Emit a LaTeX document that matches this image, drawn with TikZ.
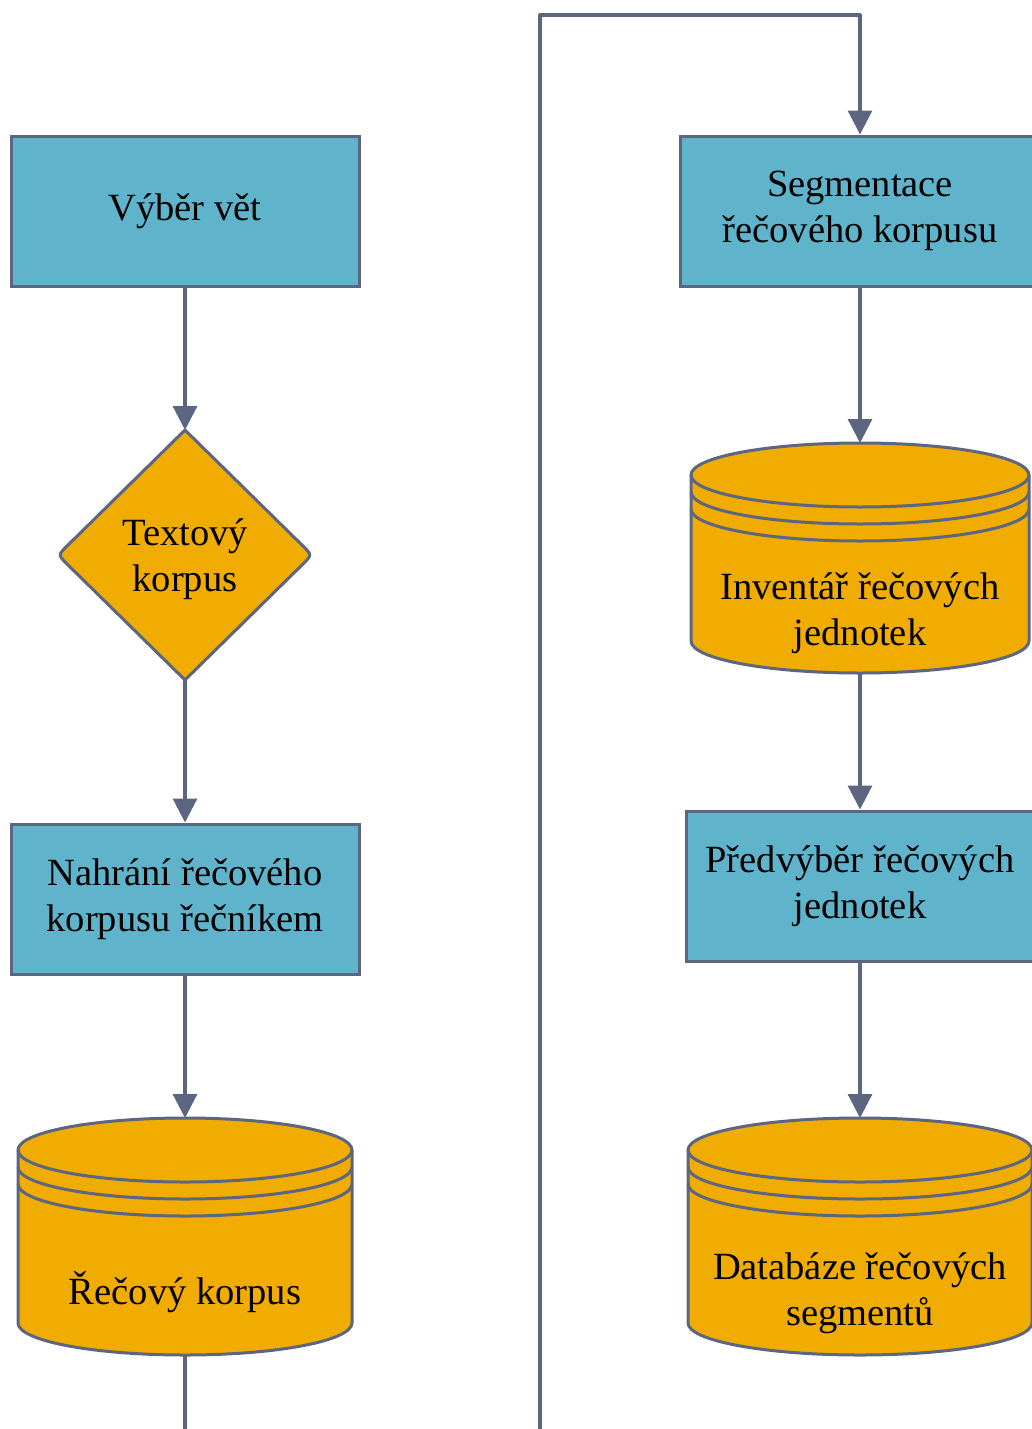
\documentclass[tikz,border=0pt]{standalone}
\usepackage{fontspec}
\setmainfont{Liberation Serif}
\usetikzlibrary{arrows.meta,calc}

\definecolor{edge}{HTML}{5D6680}
\definecolor{procfill}{HTML}{5FB3CB}
\definecolor{datafill}{HTML}{F0AC00}

% drum (stored data) outline around an empty node: #1 node name, #2 x radius
\newcommand\drumshape[2]{%
  \path[outline] ($(#1.north west)+(0,32)$) -- ($(#1.south west)+(0,-32)$)
    arc[start angle=180,end angle=360,x radius=#2pt,y radius=32pt]
    -- ($(#1.north east)+(0,32)$)
    arc[start angle=0,end angle=180,x radius=#2pt,y radius=32pt] -- cycle;
  \foreach \d in {0,17,34}{
    \draw[ring] ($(#1.north west)+(0,32+\d)$)
      arc[start angle=180,end angle=360,x radius=#2pt,y radius=32pt];
  }%
}

\begin{document}
\begin{tikzpicture}[x=1pt,y=-1pt,
  font=\fontsize{38.5}{46}\selectfont,
  proc/.style={draw=edge, fill=procfill, line width=3pt,
    minimum width=348pt, minimum height=150pt, inner sep=0pt, align=center},
  holder/.style={inner sep=0pt, outer sep=0pt},
  outline/.style={draw=edge, fill=datafill, line width=3pt, line join=round},
  ring/.style={draw=edge, line width=3pt},
  caption/.style={align=center, inner sep=0pt},
  flow/.style={draw=edge, line width=3.2pt, line join=round,
    -{Triangle[length=24pt,width=24pt]}}
]
\useasboundingbox (0,0) rectangle (1032,1429);
\fill[white] (0,0) rectangle (1032,1429);
\clip (0,0) rectangle (1032,1429);

% left column
\node[proc] (b1) at (185,211) {Výběr vět};

\node[holder, minimum width=254pt, minimum height=250pt] (dia) at (185,555) {};
\path[outline] (dia.north) -- ($(dia.east)+(-9,-9)$) .. controls (dia.east) .. ($(dia.east)+(-9,9)$)
  -- (dia.south) -- ($(dia.west)+(9,9)$) .. controls (dia.west) .. ($(dia.west)+(9,-9)$) -- cycle;
\node[caption] (diatext) at (185,559) {Textový\\korpus};

\node[proc] (b2) at (185,899) {Nahrání řečového\\korpusu řečníkem};

\node[holder, minimum width=334pt, minimum height=237pt] (cyl1) at (185,1236.5) {};
\drumshape{cyl1}{167}
\node[caption] (cyl1text) at (185,1292) {Řečový korpus};

% right column
\node[proc, minimum width=360pt] (seg) at (860,211) {Segmentace\\řečového korpusu};

\node[holder, minimum width=338pt, minimum height=230pt] (cyl2) at (860,558) {};
\drumshape{cyl2}{169}
\node[caption] (cyl2text) at (860,613) {Inventář řečových\\jednotek};

\node[proc] (pre) at (860,886) {Předvýběr řečových\\jednotek};

\node[holder, minimum width=344pt, minimum height=237pt] (cyl3) at (860,1236.5) {};
\drumshape{cyl3}{172}
\node[caption] (cyl3text) at (860,1293) {Databáze řečových\\segmentů};

% connectors
\coordinate (lowturn) at (540,1480);
\coordinate (highturn) at (540,15);

\draw[flow] (b1.south) -- (dia.north);
\draw[flow] (dia.south) -- (b2.north);
\draw[flow] (b2.south) -- (cyl1.north);
\draw[flow] (cyl1.south) |- (lowturn) -- (highturn) -| (seg.north);
\draw[flow] (seg.south) -- (cyl2.north);
\draw[flow] (cyl2.south) -- (pre.north);
\draw[flow] (pre.south) -- (cyl3.north);
\end{tikzpicture}
\end{document}
